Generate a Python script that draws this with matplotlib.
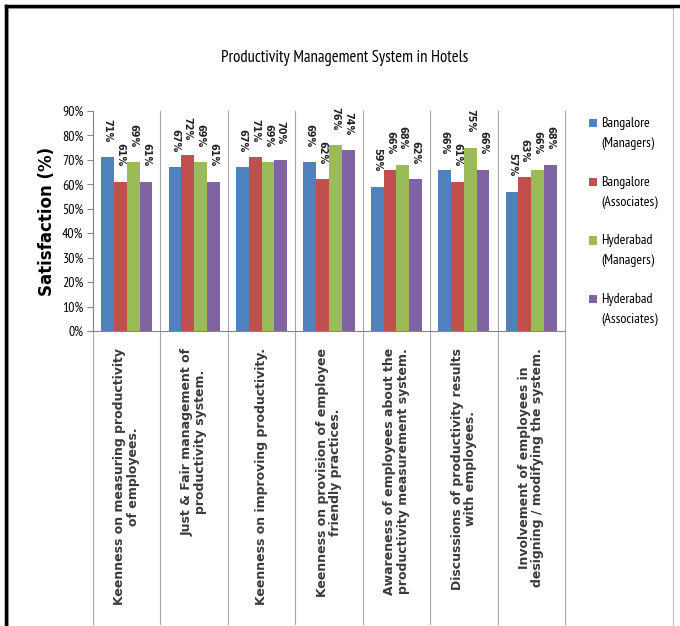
import numpy as np
import matplotlib
matplotlib.use("Agg")
from matplotlib import pyplot as plt
from matplotlib.lines import Line2D
from matplotlib.patches import Rectangle
from matplotlib.container import BarContainer
from matplotlib.legend_handler import HandlerPatch, update_from_first_child
import matplotlib.transforms as mtransforms

# data
categories = [
    "Keenness on measuring productivity\nof employees.",
    "Just & Fair management of\nproductivity system.",
    "Keenness on improving productivity.",
    "Keenness on provision of employee\nfriendly practices.",
    "Awareness of employees about the\nproductivity measurement system.",
    "Discussions of productivity results\nwith employees.",
    "Involvement of employees in\ndesigning / modifying the system.",
]
series_names = ["Bangalore\n(Managers)", "Bangalore\n(Associates)",
                "Hyderabad\n(Managers)", "Hyderabad\n(Associates)"]
bangalore_mgr = [71, 67, 67, 69, 59, 66, 57]
bangalore_assoc = [61, 72, 71, 62, 66, 61, 63]
hyderabad_mgr = [69, 69, 69, 76, 68, 75, 66]
hyderabad_assoc = [61, 61, 70, 74, 62, 66, 68]
colors = ["#4F81BD", "#C0504D", "#9BBB59", "#8064A2"]

narrow = ["PT Sans Narrow", "DejaVu Sans"]

fig = plt.figure(figsize=(6.8, 6.26), dpi=100)
ax = fig.add_axes([0.1368, 0.4712, 0.694, 0.3514])

x = np.arange(len(categories))
w = 0.19
all_series = [bangalore_mgr, bangalore_assoc, hyderabad_mgr, hyderabad_assoc]
for i, vals in enumerate(all_series):
    v = np.array(vals) / 100.0
    bars = ax.bar(x + (i - 1.5) * w, v, width=w, color=colors[i],
                  label=series_names[i], zorder=3)
    for b, val in zip(bars, vals):
        ax.annotate("%d%%" % val, (b.get_x() + b.get_width() / 2, b.get_height()),
                    xytext=(0, 11), textcoords="offset points",
                    rotation=-90, ha="center", va="bottom",
                    fontsize=7, fontweight="bold", color="#222222")

ax.set_xlim(-0.5, len(categories) - 0.5)
ax.set_ylim(0, 0.9)
ax.set_yticks(np.arange(0, 0.91, 0.1))
ax.set_yticklabels(["%d%%" % t for t in range(0, 91, 10)], family=narrow, fontsize=10)
ax.set_xticks([])
ax.tick_params(axis="y", direction="out", length=4, color="#868686", pad=3)

for s in ["top", "right"]:
    ax.spines[s].set_visible(False)
ax.spines["left"].set_color("#868686")
ax.spines["bottom"].set_color("#868686")

# category boundary lines running through the label area
trans = mtransforms.blended_transform_factory(ax.transData, ax.transAxes)
for b in np.arange(-0.5, len(categories), 1.0):
    ax.add_line(Line2D([b, b], [-1.33, 1.0], transform=trans, color="#A6A6A6",
                       lw=0.8, clip_on=False, zorder=1))

for i, c in enumerate(categories):
    ax.text(i, -0.077, c, transform=trans, rotation=90, ha="center", va="top",
            multialignment="center", fontsize=9, fontweight="bold",
            color="#3a3a3a", linespacing=1.05)

ax.set_ylabel("Satisfaction (%)", fontsize=12, fontweight="bold")
ax.yaxis.set_label_coords(-0.078, 0.5)

fig.text(0.507, 0.908, "Productivity Management System in Hotels",
         ha="center", va="center", family=narrow, fontsize=12)


# legend square sits next to the first line of each two-line label
def top_square(legend, orig_handle, xdescent, ydescent, width, height, fontsize):
    return Rectangle((-xdescent, -ydescent + 0.75 * fontsize), width, height)


leg = ax.legend(loc="upper left", bbox_to_anchor=(1.025, 1.03), frameon=False,
                prop={"family": narrow, "size": 10}, handlelength=0.55,
                handleheight=0.55, handletextpad=0.3, labelspacing=1.85,
                handler_map={BarContainer: HandlerPatch(patch_func=top_square,
                                                        update_func=update_from_first_child)})
for t in leg.get_texts():
    t.set_linespacing(1.7)

# frames: gray chart-area border and black page border
fig.add_artist(Rectangle((8 / 680, -0.01), 665 / 680, 1 - 8 / 626 + 0.01,
                         transform=fig.transFigure, fill=False,
                         edgecolor="#BFBFBF", lw=0.8))
fig.add_artist(Line2D([6 / 680, 1.0], [1 - 6 / 626, 1 - 6 / 626],
                      transform=fig.transFigure, color="black", lw=2.5))
fig.add_artist(Line2D([6 / 680, 6 / 680], [0, 1 - 6 / 626],
                      transform=fig.transFigure, color="black", lw=2.5))

fig.savefig("out.png", dpi=100)
